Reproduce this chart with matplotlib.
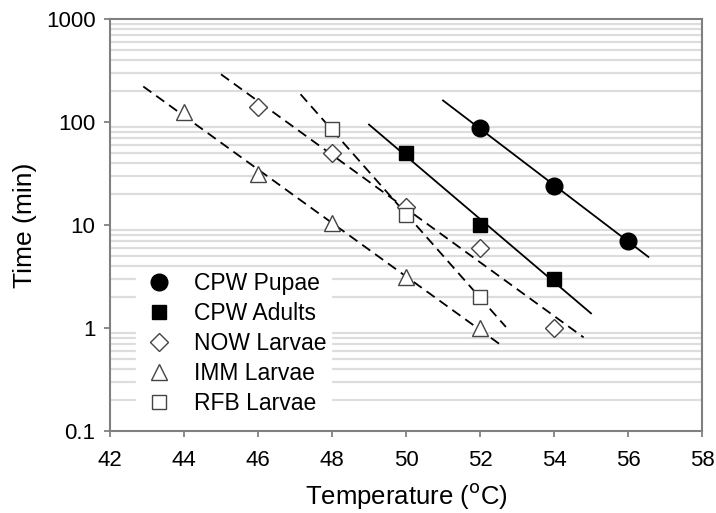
import numpy as np
import matplotlib.pyplot as plt
from matplotlib.ticker import LogLocator, NullFormatter, FixedLocator

plt.rcParams['font.family'] = ['Liberation Sans', 'DejaVu Sans']

# data
pupae_t = [52, 54, 56]
pupae_y = [87, 24, 7]
adults_t = [50, 52, 54]
adults_y = [50, 10, 3]
now_t = [46, 48, 50, 52, 54]
now_y = [140, 50, 15, 6, 1]
imm_t = [44, 46, 48, 50, 52]
imm_y = [125, 31, 10.5, 3.1, 1.0]
rfb_t = [48, 50, 52]
rfb_y = [85, 12.5, 2]

# extent of the fitted regression lines
pupae_rng = [51.0, 56.55]
adults_rng = [49.0, 55.0]
now_rng = [45.0, 54.8]
imm_rng = [42.9, 52.6]
rfb_rng = [47.15, 52.7]

dash = (0, (5.5, 3.3))
series = [
    ("CPW Pupae", pupae_t, pupae_y, pupae_rng, "o", 12, "black", "-"),
    ("CPW Adults", adults_t, adults_y, adults_rng, "s", 10, "black", "-"),
    ("NOW Larvae", now_t, now_y, now_rng, "D", 9.5, "white", dash),
    ("IMM Larvae", imm_t, imm_y, imm_rng, "^", 11.5, "white", dash),
    ("RFB Larvae", rfb_t, rfb_y, rfb_rng, "s", 10, "white", dash),
]

fig = plt.figure(figsize=(7.16, 5.13), dpi=100)
ax = fig.add_axes([110 / 716, 1 - 431 / 513, 592 / 716, 412 / 513])

for name, t, y, rng, mk, ms, fc, ls in series:
    slope, icpt = np.polyfit(t, np.log10(y), 1)
    xs = np.array(rng)
    ax.plot(xs, 10 ** (icpt + slope * xs), color="black", lw=1.3, ls=ls, zorder=3)
    ax.plot(t, y, ls="none", marker=mk, ms=ms, mfc=fc, mec="black" if fc == "black" else "#444444",
            mew=1.0, label=name, zorder=4)

ax.set_yscale("log")
ax.set_xlim(42, 58)
ax.set_ylim(0.1, 1000)
ax.set_xticks(np.arange(42, 59, 2))
ax.yaxis.set_major_locator(FixedLocator([0.1, 1, 10, 100, 1000]))
ax.set_yticklabels(["0.1", "1", "10", "100", "1000"])
ax.yaxis.set_minor_locator(LogLocator(base=10, subs=np.arange(2, 10)))
ax.yaxis.set_minor_formatter(NullFormatter())
ax.tick_params(axis="y", which="minor", length=0)
ax.tick_params(axis="both", which="major", direction="out", length=4.5, width=1.2,
               color="#777777", labelsize=16)
ax.tick_params(axis="x", which="major", pad=9)
ax.tick_params(axis="y", which="major", pad=6)
ax.grid(True, axis="y", which="minor", color="#dddddd", lw=1.6, zorder=0)
ax.set_axisbelow(True)

for s in ax.spines.values():
    s.set_color("#808080")
    s.set_linewidth(1.5)

ax.set_xlabel(r"Temperature ($^{\mathrm{o}}$C)", fontsize=18.5, labelpad=7.5)
ax.set_ylabel("Time (min)", fontsize=19, labelpad=6)

leg = ax.legend(loc="lower left", bbox_to_anchor=(0.025, 0.0), frameon=True, fontsize=16.5,
                handletextpad=0.7, labelspacing=0.3, borderpad=0.2, handlelength=1.6)
leg.get_frame().set_edgecolor("white")
leg.get_frame().set_facecolor("white")
leg.get_frame().set_alpha(1)
leg.get_frame().set_boxstyle("square", pad=0)

fig.savefig("out.png", dpi=100)
